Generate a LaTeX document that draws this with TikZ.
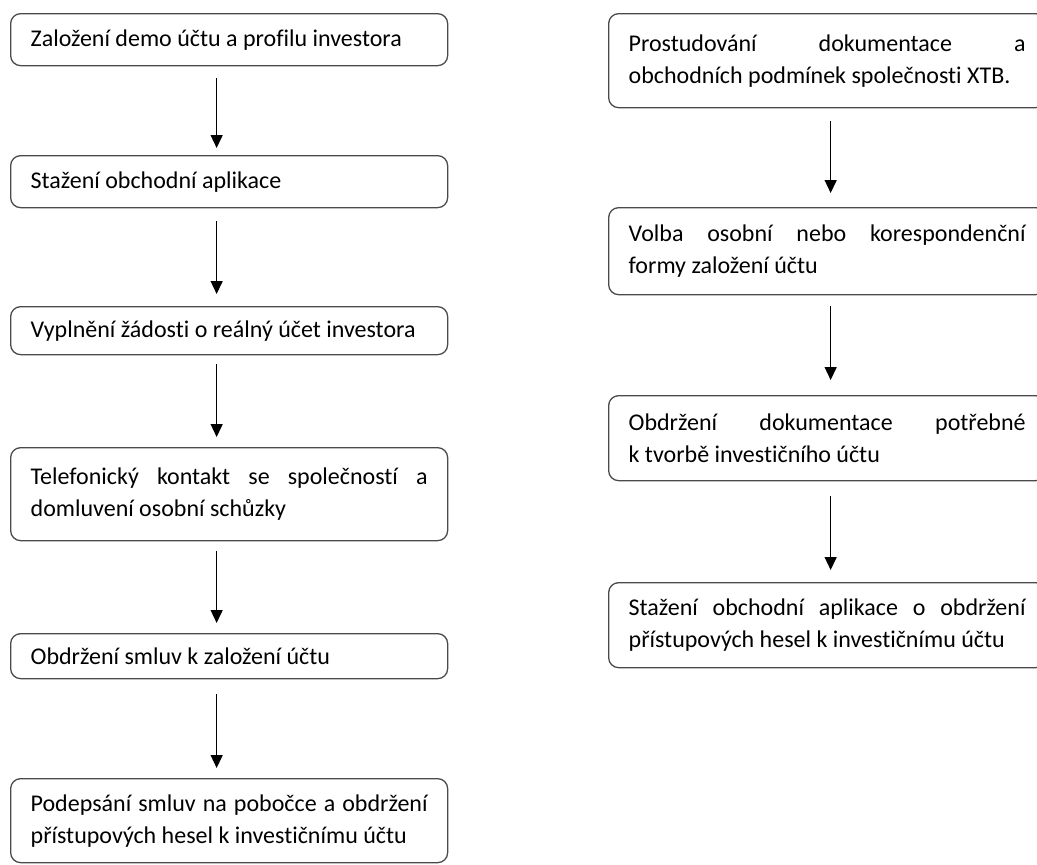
\documentclass[tikz,border=0pt]{standalone}
\usepackage{fontspec}
\setmainfont[Ligatures={NoCommon}]{Carlito}
\usetikzlibrary{arrows.meta}
\setlength{\parindent}{0pt}
\hyphenpenalty=10000
\exhyphenpenalty=10000
\tolerance=10000
\hbadness=10000
\definecolor{boxc}{HTML}{4A4A4A}
\newcommand{\fs}{\fontsize{24}{32}\selectfont}
\tikzset{
  stepbox/.style={draw=boxc, line width=1.3pt, rounded corners=10pt, text width=397pt,
    align=justify, inner xsep=20pt, inner ysep=0pt, anchor=north west, font=\fs, text=black},
  arr/.style={-{Triangle[length=13pt,width=12pt]}, line width=1.4pt, draw=black}
}
\begin{document}
\begin{tikzpicture}[x=1pt,y=-1pt]
\useasboundingbox (0,0) rectangle (1037,865);
\clip (0,0) rectangle (1037,865);
% left column
\node[stepbox, minimum height=52pt] (L1) at (10,13) {Založení demo účtu a profilu investora};
\node[stepbox, minimum height=52pt] (L2) at (10,155) {Stažení obchodní aplikace};
\node[stepbox, minimum height=48pt] (L3) at (10,306) {Vyplnění žádosti o reálný účet investora};
\node[stepbox, minimum height=93pt] (L4) at (10,447) {Telefonický kontakt se společností a\linebreak domluvení osobní schůzky};
\node[stepbox, minimum height=45pt] (L5) at (10,633) {Obdržení smluv k založení účtu};
\node[stepbox, minimum height=84pt] (L6) at (10,778) {Podepsání smluv na pobočce a obdržení\linebreak přístupových hesel k investičnímu účtu};
% right column
\node[stepbox, minimum height=94pt] (R1) at (608,13) {Prostudování dokumentace a\linebreak obchodních podmínek společnosti XTB.};
\node[stepbox, minimum height=87pt] (R2) at (608,207) {Volba osobní nebo korespondenční\linebreak formy založení účtu};
\node[stepbox, minimum height=85pt] (R3) at (608,395) {Obdržení dokumentace potřebné\linebreak k tvorbě investičního účtu};
\node[stepbox, minimum height=85pt] (R4) at (608,582) {Stažení obchodní aplikace o obdržení\linebreak přístupových hesel k investičnímu účtu};
% arrows left
\draw[arr, shorten <=12pt, shorten >=7pt] ([xshift=-12.5pt]L1.south) -- ([xshift=-12.5pt]L2.north);
\draw[arr, shorten <=13pt, shorten >=12pt] ([xshift=-12.5pt]L2.south) -- ([xshift=-12.5pt]L3.north);
\draw[arr, shorten <=9pt, shorten >=10pt] ([xshift=-12.5pt]L3.south) -- ([xshift=-12.5pt]L4.north);
\draw[arr, shorten <=10pt, shorten >=10pt] ([xshift=-12.5pt]L4.south) -- ([xshift=-12.5pt]L5.north);
\draw[arr, shorten <=15pt, shorten >=10pt] ([xshift=-12.5pt]L5.south) -- ([xshift=-12.5pt]L6.north);
% arrows right
\draw[arr, shorten <=13pt, shorten >=14pt] ([xshift=3.5pt]R1.south) -- ([xshift=3.5pt]R2.north);
\draw[arr, shorten <=11pt, shorten >=15pt] ([xshift=3.5pt]R2.south) -- ([xshift=3.5pt]R3.north);
\draw[arr, shorten <=15pt, shorten >=12pt] ([xshift=3.5pt]R3.south) -- ([xshift=3.5pt]R4.north);
\end{tikzpicture}
\end{document}
